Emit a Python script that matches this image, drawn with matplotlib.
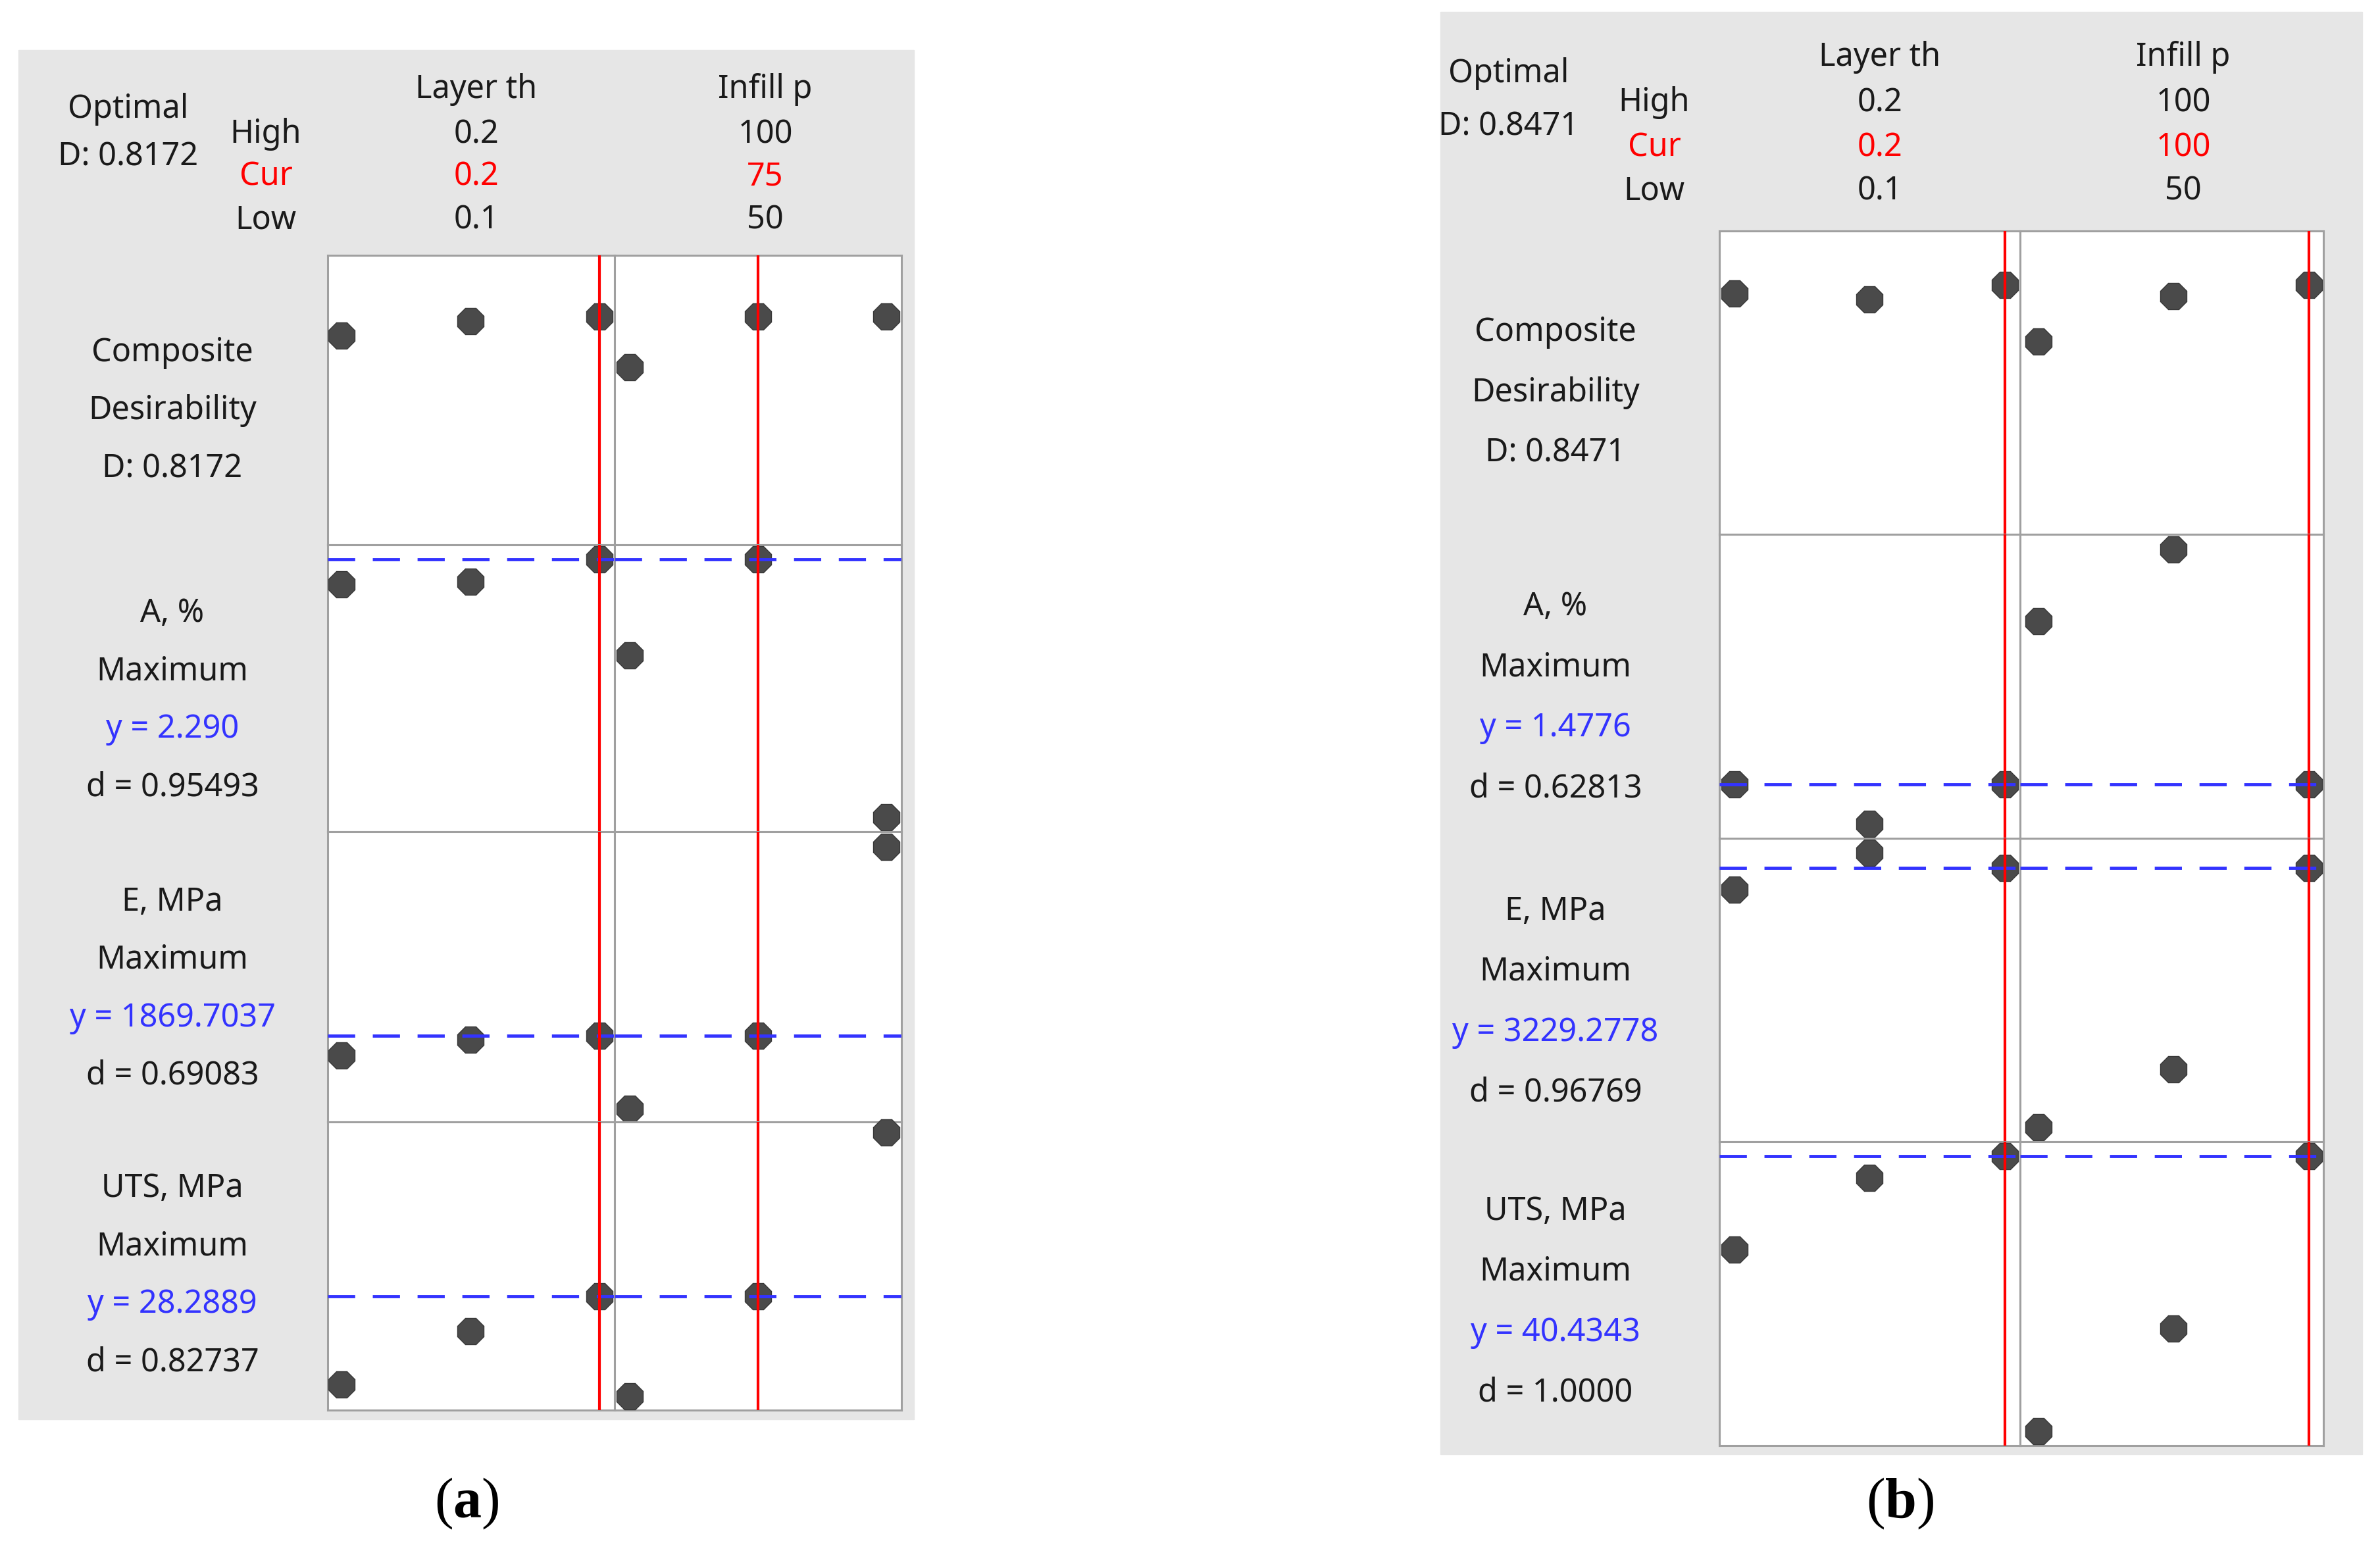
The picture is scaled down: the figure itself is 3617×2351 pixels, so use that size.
import matplotlib
matplotlib.use("Agg")
import matplotlib.pyplot as plt
from matplotlib import font_manager
from matplotlib.patches import Rectangle

W, H = 3617, 2351

# factor levels shown on the x axes
layer_x = [0.1, 0.15, 0.2]
infill_x = [50, 75, 100]

resp_names = ["A, %", "E, MPa", "UTS, MPa"]

# ---- panel (a) values ----
a_optimal = "0.8172"
a_cur = [0.2, 75]
a_cur_txt = ["0.2", "75"]
a_y_txt = ["2.290", "1869.7037", "28.2889"]
a_d_txt = ["0.95493", "0.69083", "0.82737"]
a_cd_layer = [0.747, 0.799, 0.817]
a_cd_infill = [0.634, 0.817, 0.817]
a_A_layer = [2.157, 2.173, 2.290]
a_A_infill = [1.788, 2.290, 0.940]
a_E_layer = [1767, 1851, 1869.7]
a_E_infill = [1494, 1869.7, 2848]
a_UTS_layer = [22.16, 25.88, 28.29]
a_UTS_infill = [21.36, 28.29, 39.68]
a_ylim = [(0, 1.035), (0.865, 2.365), (1425, 2925), (20.4, 40.4)]
a_xlim = [(0.0946, 0.2059), (47.05, 102.95)]

# ---- panel (b) values ----
b_optimal = "0.8471"
b_cur = [0.2, 100]
b_cur_txt = ["0.2", "100"]
b_y_txt = ["1.4776", "3229.2778", "40.4343"]
b_d_txt = ["0.62813", "0.96769", "1.0000"]
b_cd_layer = [0.818, 0.797, 0.8471]
b_cd_infill = [0.654, 0.808, 0.8471]
b_A_layer = [1.4776, 1.348, 1.4776]
b_A_infill = [2.014, 2.250, 1.4776]
b_E_layer = [3087, 3329, 3229.3]
b_E_infill = [1521, 1903, 3229.3]
b_UTS_layer = [34.3, 39.0, 40.43]
b_UTS_infill = [22.36, 29.1, 40.43]
b_ylim = [(0, 1.03), (1.30, 2.30), (1425, 3425), (21.4, 41.4)]
b_xlim = [(0.0943, 0.2055), (46.53, 102.68)]

# pick fonts that exist
names = {f.name for f in font_manager.fontManager.ttflist}
SANS = "Noto Sans" if "Noto Sans" in names else "DejaVu Sans"
SERIF = "Liberation Serif" if "Liberation Serif" in names else "DejaVu Serif"
plt.rcParams["mathtext.fontset"] = "custom"
plt.rcParams["mathtext.rm"] = SERIF
plt.rcParams["mathtext.bf"] = SERIF + ":bold"

BG = "#e6e6e6"
EDGE = "#a0a0a0"
DOT = "#4a4a4a"
RED = "#ff0000"
BLUE = "#3333ff"
TXT = "#1a1a1a"
FS = 35

fig = plt.figure(figsize=(W / 100, H / 100), dpi=100)


def fx(x):
    return x / W


def fy(y):
    return 1 - y / H


def txt(x, y, s, color=TXT, size=FS, **kw):
    fig.text(fx(x), fy(y), s, color=color, fontsize=size, family=SANS,
             ha="center", va="center", **kw)


def draw_panel(p):
    # grey Minitab background
    x0, y0, x1, y1 = p["bg"]
    fig.add_artist(Rectangle((fx(x0), fy(y1)), (x1 - x0) / W, (y1 - y0) / H,
                             transform=fig.transFigure, color=BG, zorder=0))
    xs, ys = p["xs"], p["ys"]
    for r in range(4):
        for c in range(2):
            ax = fig.add_axes([fx(xs[c]), fy(ys[r + 1]), (xs[c + 1] - xs[c]) / W,
                               (ys[r + 1] - ys[r]) / H])
            ax.set_facecolor("white")
            ax.set_xlim(p["xlim"][c])
            ax.set_ylim(p["ylim"][r])
            ax.set_xticks([])
            ax.set_yticks([])
            for s in ax.spines.values():
                s.set_color(EDGE)
                s.set_linewidth(2.2)
            xv = layer_x if c == 0 else infill_x
            yv = p["rows"][r][c]
            ax.plot(xv, yv, ls="none", marker="8", ms=31, mfc=DOT, mec="#383838",
                    mew=1, clip_on=False, zorder=3)
            if r > 0:
                ax.axhline(float(p["y_txt"][r - 1]), color=BLUE, lw=3.5,
                           dashes=(8.5, 5.5), zorder=4)
            ax.axvline(p["cur"][c], color=RED, lw=3, zorder=5)

    # header block
    hx = p["hx"]
    hy = p["hy"]
    txt(hx[0], p["opt_y"][0], "Optimal")
    txt(hx[0], p["opt_y"][1], "D: " + p["optimal"])
    txt(hx[1], hy[1], "High")
    txt(hx[1], hy[2], "Cur", color=RED)
    txt(hx[1], hy[3], "Low")
    txt(hx[2], hy[0], "Layer th")
    txt(hx[2], hy[1], "0.2")
    txt(hx[2], hy[2], p["cur_txt"][0], color=RED)
    txt(hx[2], hy[3], "0.1")
    txt(hx[3], hy[0], "Infill p")
    txt(hx[3], hy[1], "100")
    txt(hx[3], hy[2], p["cur_txt"][1], color=RED)
    txt(hx[3], hy[3], "50")

    # response labels on the left
    lx, sp = p["lx"], p["sp"]
    y = p["lab_y"][0]
    txt(lx, y, "Composite")
    txt(lx, y + sp, "Desirability")
    txt(lx, y + 2 * sp, "D: " + p["optimal"])
    for i in range(3):
        y = p["lab_y"][i + 1]
        txt(lx, y, resp_names[i])
        txt(lx, y + sp, "Maximum")
        txt(lx, y + 2 * sp, "y = " + p["y_txt"][i], color=BLUE)
        txt(lx, y + 3 * sp, "d = " + p["d_txt"][i])

    fig.text(fx(p["tag"][0]), fy(p["tag"][1]), "($\\mathbf{" + p["tag"][2] + "}$)",
             fontsize=62, family=SERIF, ha="center", va="center", color="black")


panel_a = {
    "bg": (28, 76, 1389, 2157),
    "xs": [498, 934, 1370],
    "ys": [388, 828, 1264, 1705, 2143],
    "xlim": a_xlim,
    "ylim": a_ylim,
    "rows": [[a_cd_layer, a_cd_infill], [a_A_layer, a_A_infill],
             [a_E_layer, a_E_infill], [a_UTS_layer, a_UTS_infill]],
    "cur": a_cur, "cur_txt": a_cur_txt, "y_txt": a_y_txt, "d_txt": a_d_txt,
    "optimal": a_optimal,
    "hx": [195, 404, 724, 1163], "hy": [136, 204, 268, 334], "opt_y": [166, 238],
    "lx": 262, "sp": 88, "lab_y": [536, 932, 1371, 1806],
    "tag": (709, 2285, "a"),
}

panel_b = {
    "bg": (2189, 18, 3590, 2210),
    "xs": [2612.5, 3069.5, 3531],
    "ys": [351, 812, 1274, 1735, 2197],
    "xlim": b_xlim,
    "ylim": b_ylim,
    "rows": [[b_cd_layer, b_cd_infill], [b_A_layer, b_A_infill],
             [b_E_layer, b_E_infill], [b_UTS_layer, b_UTS_infill]],
    "cur": b_cur, "cur_txt": b_cur_txt, "y_txt": b_y_txt, "d_txt": b_d_txt,
    "optimal": b_optimal,
    "hx": [2293, 2514, 2857, 3318], "hy": [87, 156, 224, 290], "opt_y": [112, 192],
    "lx": 2364, "sp": 92, "lab_y": [505, 922, 1385, 1841],
    "tag": (2888, 2285, "b"),
}

draw_panel(panel_a)
draw_panel(panel_b)

fig.savefig("out.png", dpi=100, facecolor="white")
